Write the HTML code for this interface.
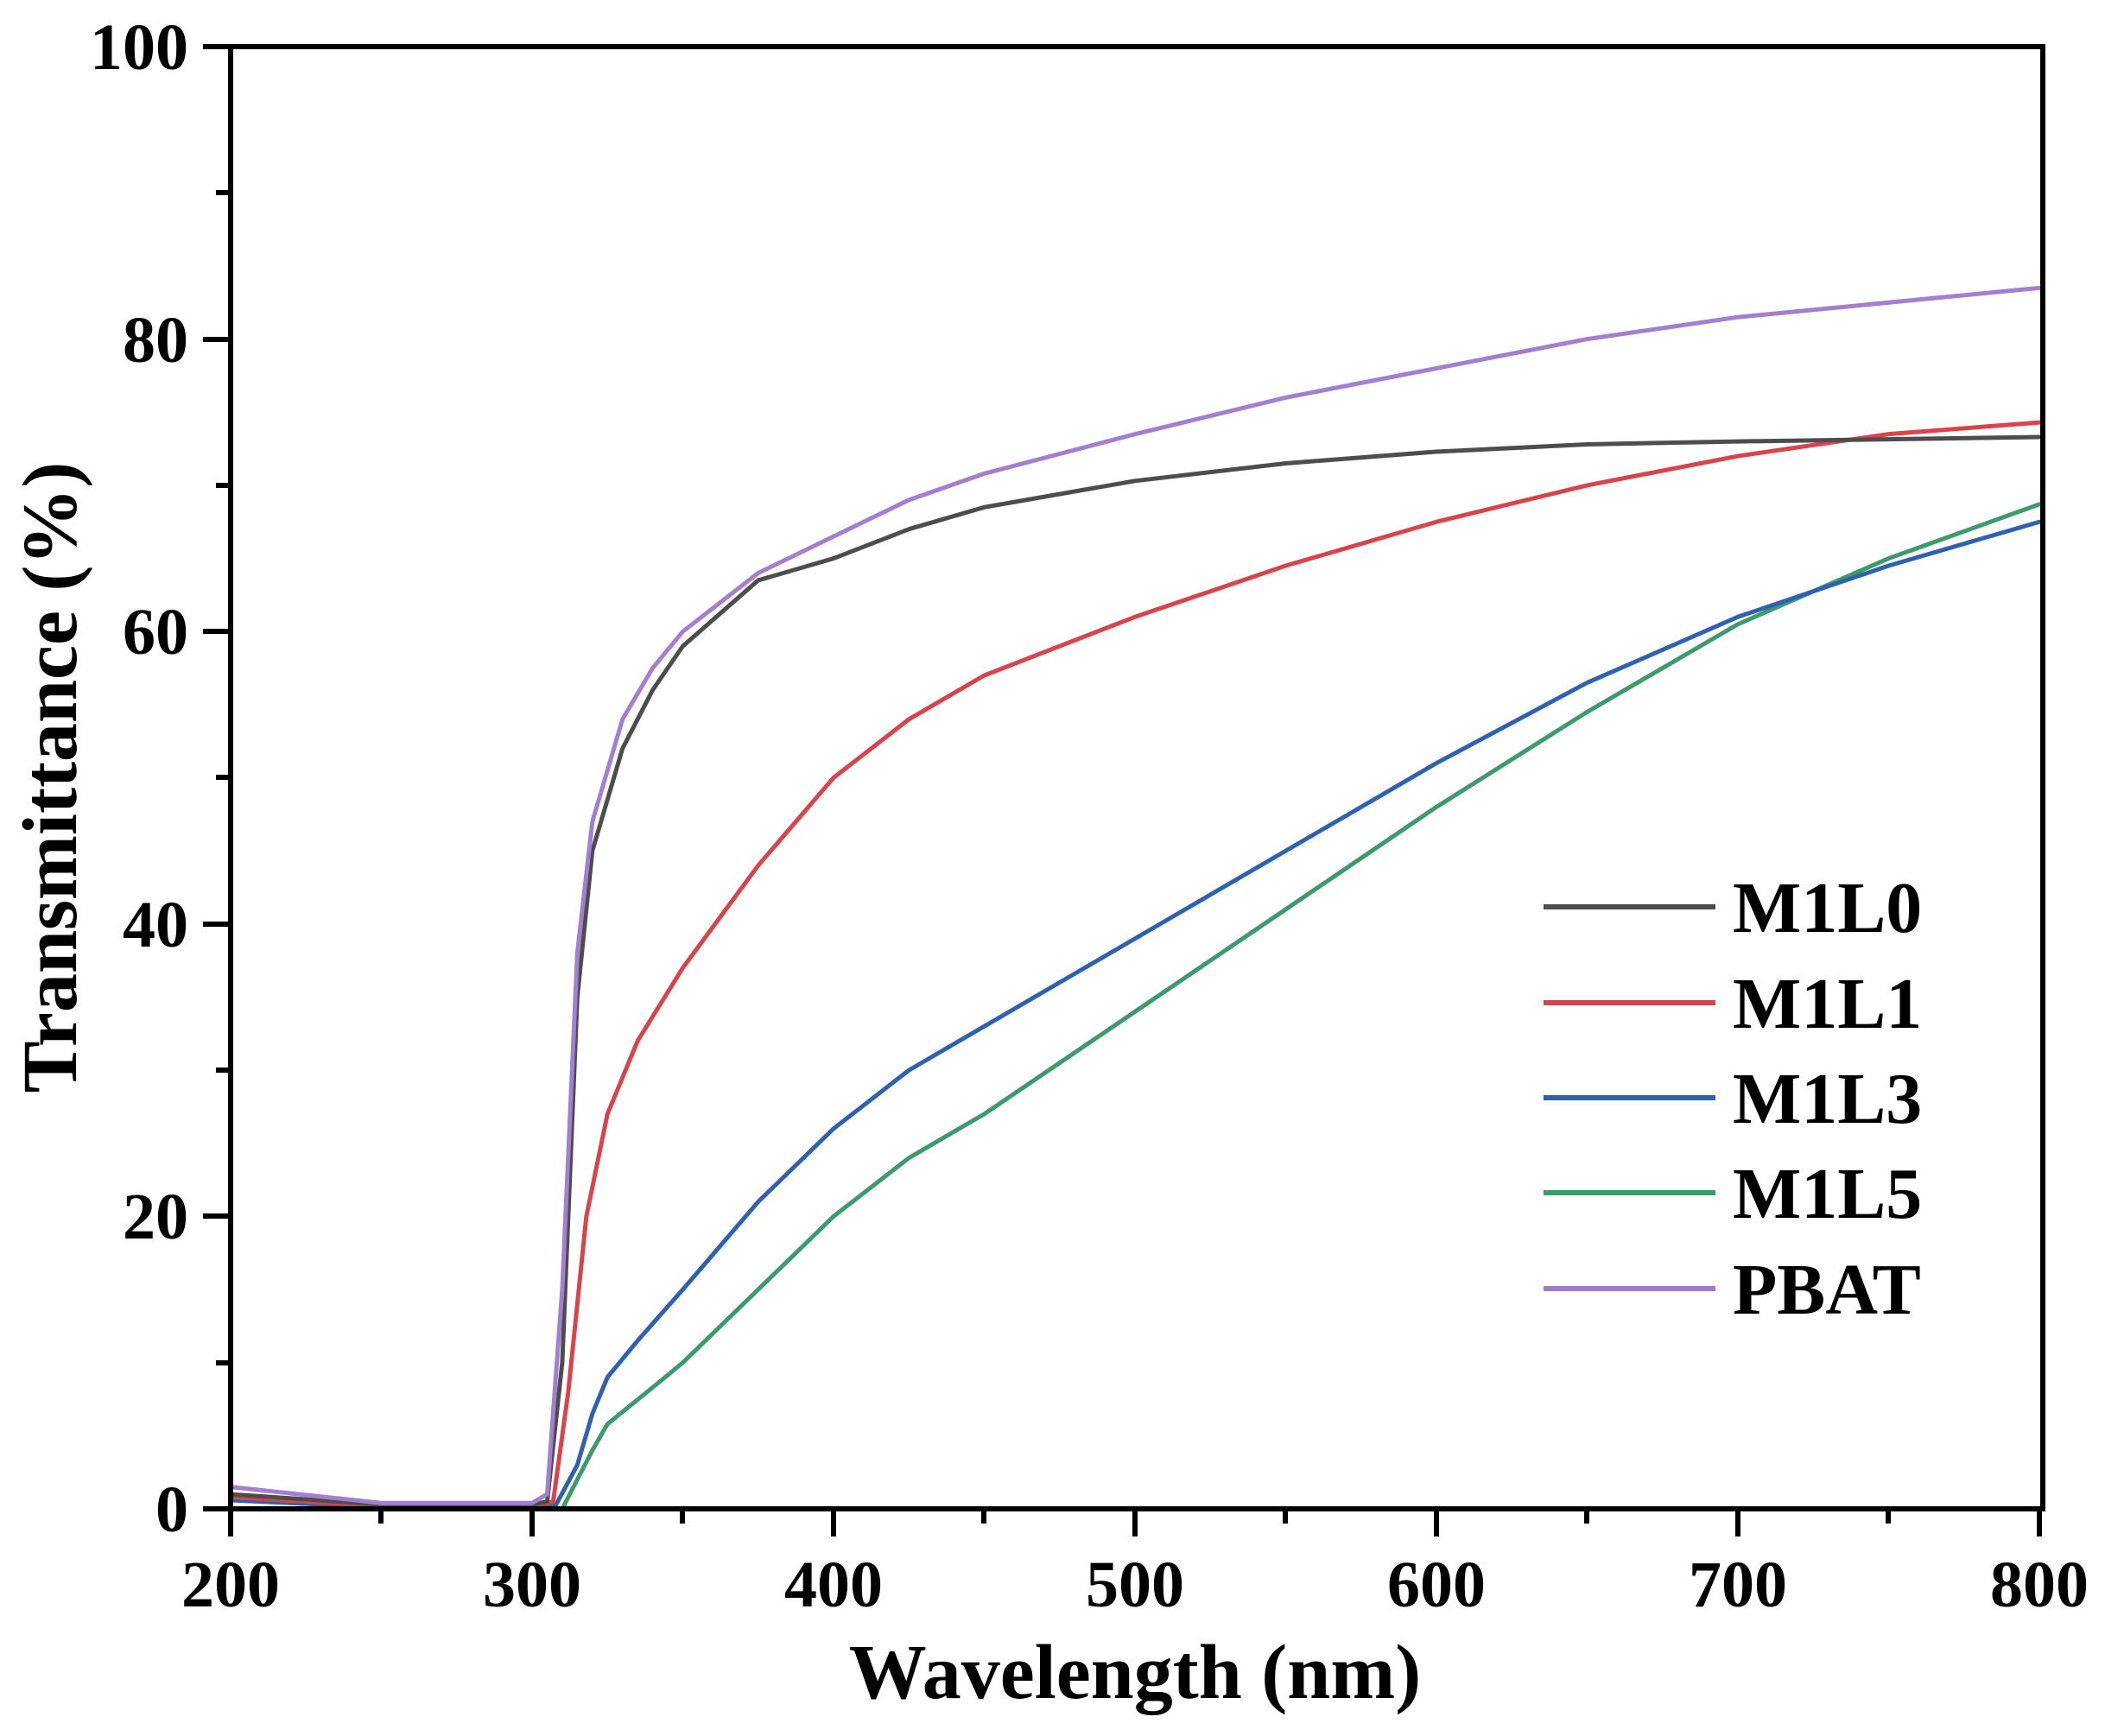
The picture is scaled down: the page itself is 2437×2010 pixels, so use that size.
<!DOCTYPE html>
<html><head><meta charset="utf-8"><style>
html,body{margin:0;padding:0;background:#fff}
svg{display:block}
text{font-family:"Liberation Serif",serif;font-weight:bold;fill:#000}
</style></head><body>
<svg width="2437" height="2010" viewBox="0 0 2437 2010" xmlns="http://www.w3.org/2000/svg">
<rect width="2437" height="2010" fill="#fff"/>
<g fill="none" stroke-linejoin="round" stroke-linecap="round" stroke-width="5">
<g transform="translate(-431,1747) scale(3.49,-16.93)">
<polyline vector-effect="non-scaling-stroke" stroke="#3d9a6a" points="200,0.6 250,0.1 300,0 310,0 315,2 320,4 325,5.8 340,8.3 350,10 375,15 400,20 425,24 450,27 500,34 550,41 600,48 650,54.5 700,60.5 750,65 800,68.7"/>
<polyline vector-effect="non-scaling-stroke" stroke="#2e62b0" points="200,0.6 250,0.1 300,0 308,0.3 315,3 320,6.5 325,9 335,11.5 350,15 375,21 400,26 425,30 450,33 500,39 550,45 600,51 650,56.5 700,61 750,64.5 800,67.5"/>
<polyline vector-effect="non-scaling-stroke" stroke="#d9444b" points="200,0.8 250,0.2 300,0.2 307,0.5 312,8 318,20 325,27 335,32 350,37 375,44 400,50 425,54 450,57 500,61 550,64.5 600,67.5 650,70 700,72 750,73.5 800,74.3"/>
<polyline vector-effect="non-scaling-stroke" stroke="#4d4d4d" points="200,1 250,0.3 300,0.3 305,0.5 310,10 315,35 320,45 330,52 340,56 350,59 375,63.5 400,65 425,67 450,68.5 500,70.3 550,71.5 600,72.3 650,72.8 700,73 800,73.3"/>
<polyline vector-effect="non-scaling-stroke" stroke="#a47ed0" points="200,1.5 250,0.4 300,0.4 305,1 310,15 315,38 320,47 330,54 340,57.5 350,60 375,64 400,66.5 425,69 450,70.8 500,73.5 550,76 600,78 650,80 700,81.5 800,83.5"/>
</g>
</g>
<g stroke="#000" stroke-width="6" fill="none">
<rect x="267" y="54" width="2098" height="1693"/>
<path d="M267,1747v32M616,1747v32M965,1747v32M1314,1747v32M1663,1747v32M2012,1747v32M2361,1747v32"/>
<path d="M441,1747v17M790,1747v17M1139,1747v17M1488,1747v17M1837,1747v17M2186,1747v17"/>
<path d="M267,1747h-32M267,1408h-32M267,1070h-32M267,731h-32M267,393h-32M267,54h-32"/>
<path d="M267,1578h-17M267,1239h-17M267,900h-17M267,562h-17M267,223h-17"/>
</g>
<g font-size="76" text-anchor="middle">
<text x="267" y="1860">200</text><text x="616" y="1860">300</text><text x="965" y="1860">400</text>
<text x="1314" y="1860">500</text><text x="1663" y="1860">600</text><text x="2012" y="1860">700</text><text x="2361" y="1860">800</text>
</g>
<g font-size="76" text-anchor="end">
<text x="218" y="1773">0</text><text x="218" y="1434">20</text><text x="218" y="1096">40</text>
<text x="218" y="757">60</text><text x="218" y="419">80</text><text x="218" y="80">100</text>
</g>
<text x="1314" y="1966" font-size="90" text-anchor="middle">Wavelength (nm)</text>
<text transform="translate(88,900) rotate(-90)" font-size="90" text-anchor="middle">Transmittance (%)</text>
<g stroke-width="6">
<line x1="1787" y1="1050" x2="1986" y2="1050" stroke="#4d4d4d"/>
<line x1="1787" y1="1161" x2="1986" y2="1161" stroke="#d0464e"/>
<line x1="1787" y1="1271" x2="1986" y2="1271" stroke="#2e62b0"/>
<line x1="1787" y1="1381" x2="1986" y2="1381" stroke="#3d9a6a"/>
<line x1="1787" y1="1492" x2="1986" y2="1492" stroke="#a07cc8"/>
</g>
<g font-size="84">
<text x="2006" y="1079">M1L0</text><text x="2006" y="1190">M1L1</text><text x="2006" y="1300">M1L3</text>
<text x="2006" y="1410">M1L5</text><text x="2006" y="1521">PBAT</text>
</g>
</svg>
</body></html>
